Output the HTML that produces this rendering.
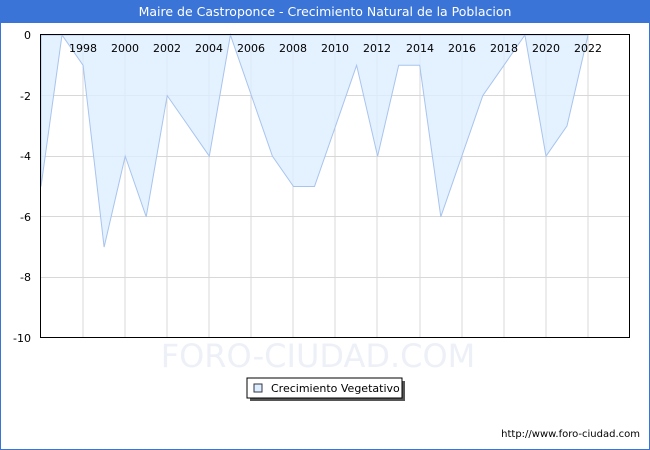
<!DOCTYPE html>
<html><head><style>
body{margin:0;background:#fff;}
svg{display:block;font-family:"DejaVu Sans","Liberation Sans",sans-serif;}
</style></head><body>
<svg width="650" height="450" xmlns="http://www.w3.org/2000/svg">
<rect x="0.5" y="0.5" width="649" height="449" fill="#fff" stroke="#3a74d6"/>
<rect x="0" y="0" width="650" height="23" fill="#3a74d6"/>
<text x="325" y="16" text-anchor="middle" fill="#fff" font-size="12.5">Maire de Castroponce - Crecimiento Natural de la Poblacion</text>
<g stroke="#d8d8d8" stroke-width="1">
<line x1="40" y1="95.5" x2="630" y2="95.5"/><line x1="40" y1="156.5" x2="630" y2="156.5"/>
<line x1="40" y1="216.5" x2="630" y2="216.5"/><line x1="40" y1="277.5" x2="630" y2="277.5"/>
<line x1="83" y1="35" x2="83" y2="338"/><line x1="125" y1="35" x2="125" y2="338"/>
<line x1="167" y1="35" x2="167" y2="338"/><line x1="209" y1="35" x2="209" y2="338"/>
<line x1="251" y1="35" x2="251" y2="338"/><line x1="293" y1="35" x2="293" y2="338"/>
<line x1="335" y1="35" x2="335" y2="338"/><line x1="377" y1="35" x2="377" y2="338"/>
<line x1="420" y1="35" x2="420" y2="338"/><line x1="462" y1="35" x2="462" y2="338"/>
<line x1="504" y1="35" x2="504" y2="338"/><line x1="546" y1="35" x2="546" y2="338"/>
<line x1="588" y1="35" x2="588" y2="338"/>
</g>
<text x="318" y="367" text-anchor="middle" font-size="32" fill="#eef0f8">FORO-CIUDAD.COM</text>
<polygon fill="#ddeeff" fill-opacity="0.8" stroke="#a8c4ee" stroke-width="1" points="41,35 41,186.5 62,35 83.1,65.3 104.1,247.1 125.2,156.2 146.2,216.8 167.2,95.6 188.3,125.9 209.3,156.2 230.4,35 251.4,95.6 272.4,156.2 293.5,186.5 314.5,186.5 335.6,125.9 356.6,65.3 377.6,156.2 398.7,65.3 419.7,65.3 440.8,216.8 461.8,156.2 482.8,95.6 503.9,65.3 524.9,35 546,156.2 567,125.9 588,35"/>
<rect x="40.5" y="34.5" width="589" height="303" fill="none" stroke="#000"/>
<g font-size="11" fill="#000">
<g text-anchor="end">
<text x="31" y="39">0</text><text x="31" y="100">-2</text><text x="31" y="160">-4</text>
<text x="31" y="221">-6</text><text x="31" y="281">-8</text><text x="31" y="342">-10</text>
</g>
<g text-anchor="middle">
<text x="83" y="52">1998</text><text x="125" y="52">2000</text><text x="167" y="52">2002</text>
<text x="209" y="52">2004</text><text x="251" y="52">2006</text><text x="293" y="52">2008</text>
<text x="335" y="52">2010</text><text x="377" y="52">2012</text><text x="420" y="52">2014</text>
<text x="462" y="52">2016</text><text x="504" y="52">2018</text><text x="546" y="52">2020</text>
<text x="588" y="52">2022</text>
</g>
</g>
<rect x="250" y="381" width="155" height="20" fill="#555"/>
<rect x="247" y="378" width="155" height="20" fill="#fff" stroke="#000"/>
<rect x="254" y="384" width="8" height="8" fill="#ddeeff" stroke="#334"/>
<text x="271" y="392" font-size="11">Crecimiento Vegetativo</text>
<text x="640" y="437" text-anchor="end" font-size="10">http://www.foro-ciudad.com</text>
</svg>
</body></html>
